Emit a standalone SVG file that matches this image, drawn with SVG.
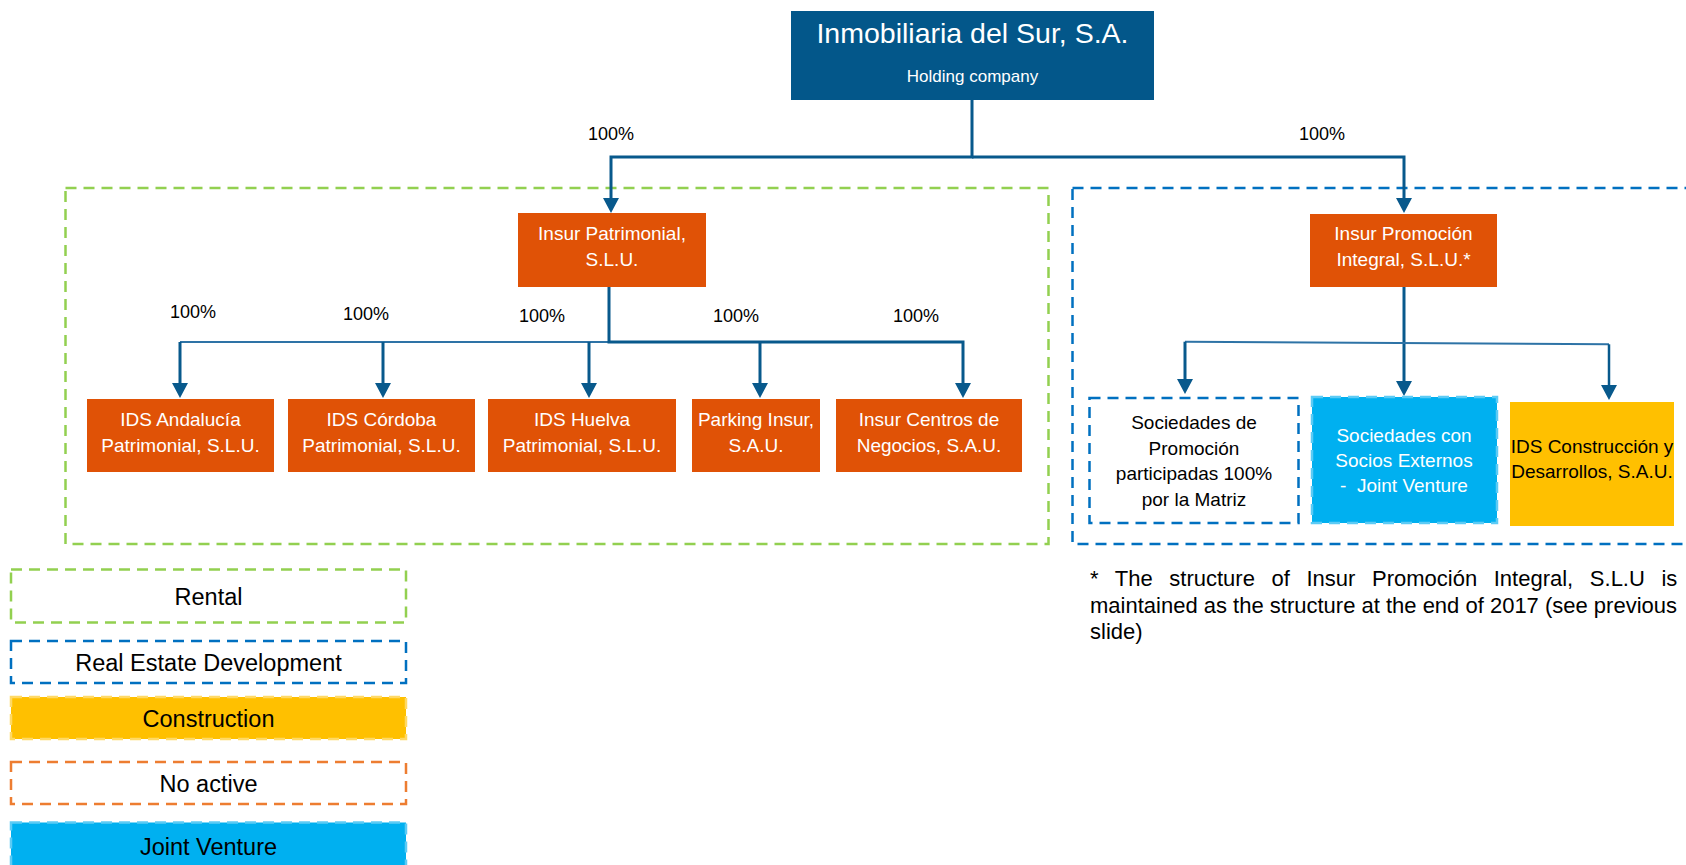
<svg xmlns="http://www.w3.org/2000/svg" width="1686" height="865" viewBox="0 0 1686 865">
<defs>
<style>
text{font-family:"Liberation Sans",Arial,sans-serif;}
.box{fill:#E05206;}
.wt{fill:#FFFFFF;font-size:19px;text-anchor:middle;}
.bt{fill:#000000;font-size:19px;text-anchor:middle;}
.pct{fill:#000000;font-size:18px;}
.ln{fill:none;stroke:#08598C;stroke-width:3;stroke-linejoin:miter;}
.thin{fill:none;stroke:#2E73A6;stroke-width:2;}
.arr{marker-end:url(#ah);}
.grn{fill:none;stroke:#92D050;stroke-width:2.5;stroke-dasharray:11 7;}
.blu{fill:none;stroke:#0070C0;stroke-width:2.5;stroke-dasharray:11 7;}
.org{fill:none;stroke:#ED7D31;stroke-width:2.5;stroke-dasharray:11 7;}
.lg{fill:#000000;font-size:23.5px;text-anchor:middle;}
.foot{fill:#000000;font-size:22px;}
</style>
<marker id="ah" viewBox="0 0 15 16" refX="7" refY="8" markerWidth="15" markerHeight="16" markerUnits="userSpaceOnUse" orient="auto">
<path d="M0,0 L15,8 L0,16 Z" fill="#08598C"/>
</marker>
</defs>
<rect width="1686" height="865" fill="#FFFFFF"/>

<g id="group-rental">
<rect class="grn" x="65.5" y="188" width="983" height="356"/>
</g>
<g id="group-development">
<rect class="blu" x="1072.5" y="188" width="640" height="356"/>
</g>

<g id="connectors">
<path class="ln arr" d="M972,100 V157 H611 V205"/>
<path class="ln arr" d="M972,157 H1404 V205"/>
<path class="thin" d="M180,342 H609"/>
<path class="ln arr" d="M609,287 V342 H963 V390"/>
<path class="ln arr" d="M180,342 V390"/>
<path class="ln arr" d="M383,342 V390"/>
<path class="ln arr" d="M589,342 V390"/>
<path class="ln arr" d="M760,342 V390"/>
<path class="ln arr" d="M1404,287 V388"/>
<path class="thin" d="M1185,341.7 L1609,344.3"/>
<path class="ln arr" d="M1185,341.7 V386"/>
<path class="ln arr" style="stroke-width:2.5" d="M1609,344.3 V392"/>
<text class="pct" x="588" y="140">100%</text>
<text class="pct" x="1299" y="140">100%</text>
<text class="pct" x="170" y="318">100%</text>
<text class="pct" x="343" y="320">100%</text>
<text class="pct" x="519" y="322">100%</text>
<text class="pct" x="713" y="322">100%</text>
<text class="pct" x="893" y="322">100%</text>
</g>

<g id="node-holding">
<rect x="791" y="11" width="363" height="89" fill="#03578A"/>
<text x="972.5" y="43" fill="#FFFFFF" font-size="28.5" text-anchor="middle">Inmobiliaria del Sur, S.A.</text>
<text x="972.5" y="82" fill="#FFFFFF" font-size="17" text-anchor="middle">Holding company</text>
</g>

<g id="node-patrimonial">
<rect class="box" x="518" y="213" width="188" height="74"/>
<text class="wt" x="612" y="240">Insur Patrimonial,</text>
<text class="wt" x="612" y="266">S.L.U.</text>
</g>

<g id="node-andalucia">
<rect class="box" x="87" y="399" width="187" height="73"/>
<text class="wt" x="180.5" y="426">IDS Andalucía</text>
<text class="wt" x="180.5" y="451.5">Patrimonial, S.L.U.</text>
</g>

<g id="node-cordoba">
<rect class="box" x="288" y="399" width="187" height="73"/>
<text class="wt" x="381.5" y="426">IDS Córdoba</text>
<text class="wt" x="381.5" y="451.5">Patrimonial, S.L.U.</text>
</g>

<g id="node-huelva">
<rect class="box" x="488" y="399" width="188" height="73"/>
<text class="wt" x="582" y="426">IDS Huelva</text>
<text class="wt" x="582" y="451.5">Patrimonial, S.L.U.</text>
</g>

<g id="node-parking">
<rect class="box" x="692" y="399" width="128" height="73"/>
<text class="wt" x="756" y="426">Parking Insur,</text>
<text class="wt" x="756" y="451.5">S.A.U.</text>
</g>

<g id="node-centros">
<rect class="box" x="836" y="399" width="186" height="73"/>
<text class="wt" x="929" y="426">Insur Centros de</text>
<text class="wt" x="929" y="451.5">Negocios, S.A.U.</text>
</g>

<g id="node-promocion">
<rect class="box" x="1310" y="214" width="187" height="73"/>
<text class="wt" x="1403.5" y="240">Insur Promoción</text>
<text class="wt" x="1403.5" y="266">Integral, S.L.U.*</text>
</g>

<g id="node-sociedades-promocion">
<rect class="blu" x="1089.5" y="398" width="209" height="125" fill="#FFFFFF" style="fill:#FFFFFF"/>
<text class="bt" x="1194" y="429">Sociedades de</text>
<text class="bt" x="1194" y="455">Promoción</text>
<text class="bt" x="1194" y="480">participadas 100%</text>
<text class="bt" x="1194" y="506">por la Matriz</text>
</g>

<g id="node-socios-externos">
<rect x="1312" y="397" width="185" height="126" fill="#00B0F0" stroke="#5CCBF5" stroke-width="2.5" stroke-dasharray="11 7"/>
<text class="wt" x="1404" y="442">Sociedades con</text>
<text class="wt" x="1404" y="467">Socios Externos</text>
<text class="wt" x="1404" y="492" xml:space="preserve">-  Joint Venture</text>
</g>

<g id="node-construccion">
<rect x="1510" y="402" width="164" height="124" fill="#FFC000"/>
<text class="bt" x="1592" y="453">IDS Construcción y</text>
<text class="bt" x="1592" y="478">Desarrollos, S.A.U.</text>
</g>

<g id="legend">
<rect class="grn" x="11" y="569.5" width="395" height="53"/>
<text class="lg" x="208.5" y="605">Rental</text>
<rect class="blu" x="11" y="641" width="395" height="42"/>
<text class="lg" x="208.5" y="671">Real Estate Development</text>
<rect x="11" y="697" width="395" height="42" fill="#FFC000" stroke="#FFD966" stroke-width="2.5" stroke-dasharray="11 7"/>
<text class="lg" x="208.5" y="727">Construction</text>
<rect class="org" x="11" y="762" width="395" height="42"/>
<text class="lg" x="208.5" y="792">No active</text>
<rect x="11" y="822.5" width="395" height="50" fill="#00B0F0" stroke="#5CCBF5" stroke-width="2.5" stroke-dasharray="11 7"/>
<text class="lg" x="208.5" y="855">Joint Venture</text>
</g>

<g id="footnote">
<text class="foot" x="1090" y="586" word-spacing="10.5">* The structure of Insur Promoción Integral, S.L.U is</text>
<text class="foot" x="1090" y="612.5">maintained as the structure at the end of 2017 (see previous</text>
<text class="foot" x="1090" y="639">slide)</text>
</g>
</svg>
